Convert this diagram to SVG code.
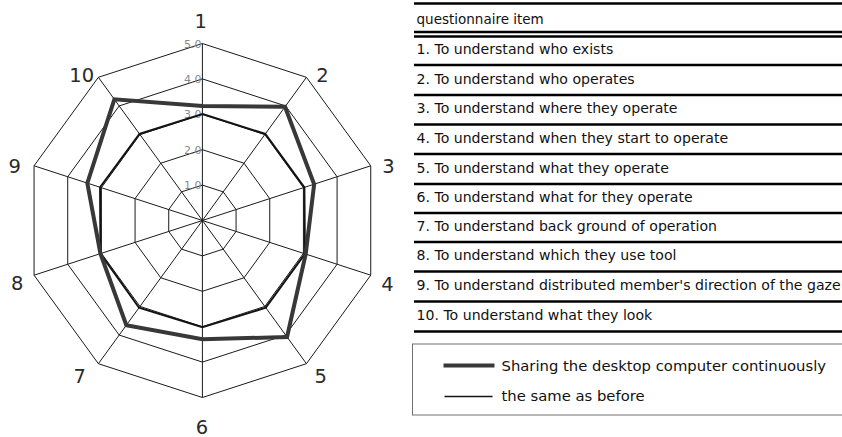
<svg xmlns="http://www.w3.org/2000/svg" width="842" height="437" viewBox="0 0 842 437">
<style>
  .grid { fill: none; stroke: #1a1a1a; stroke-width: 1; }
  .axis { font-family: "DejaVu Sans", sans-serif; font-size: 19.5px; fill: #2a2a2a; text-anchor: middle; }
  .scale { font-family: "DejaVu Sans", sans-serif; font-size: 11px; fill: #8a8a8a; text-anchor: end; }
  .thick { fill: none; stroke: #383838; stroke-width: 4; stroke-linejoin: miter; }
  .thin { fill: none; stroke: #141414; stroke-width: 2; stroke-linejoin: miter; }
  .rule { stroke: #000; stroke-width: 2.5; }
  .row { font-family: "DejaVu Sans", sans-serif; font-size: 14.1px; fill: #111; }
  .leg { font-family: "DejaVu Sans", sans-serif; font-size: 14.8px; fill: #111; }
</style>
<rect width="842" height="437" fill="#fff"/>
<g id="radar-grid">
  <polygon class="grid" points="202.4,43.5 306.44,77.31 370.74,165.81 370.74,275.19 306.44,363.69 202.4,397.5 98.36,363.69 34.06,275.19 34.06,165.81 98.36,77.31"/>
  <polygon class="grid" points="202.4,78.9 285.63,105.95 337.08,176.75 337.08,264.25 285.63,335.05 202.4,362.1 119.17,335.05 67.72,264.25 67.72,176.75 119.17,105.95"/>
  <polygon class="grid" points="202.4,114.3 264.82,134.58 303.41,187.68 303.41,253.32 264.82,306.42 202.4,326.7 139.98,306.42 101.39,253.32 101.39,187.68 139.98,134.58"/>
  <polygon class="grid" points="202.4,149.7 244.02,163.22 269.74,198.62 269.74,242.38 244.02,277.78 202.4,291.3 160.78,277.78 135.06,242.38 135.06,198.62 160.78,163.22"/>
  <polygon class="grid" points="202.4,185.1 223.21,191.86 236.07,209.56 236.07,231.44 223.21,249.14 202.4,255.9 181.59,249.14 168.73,231.44 168.73,209.56 181.59,191.86"/>
  <path class="grid" d="M202.4,220.5L202.4,43.5M202.4,220.5L306.44,77.31M202.4,220.5L370.74,165.81M202.4,220.5L370.74,275.19M202.4,220.5L306.44,363.69M202.4,220.5L202.4,397.5M202.4,220.5L98.36,363.69M202.4,220.5L34.06,275.19M202.4,220.5L34.06,165.81M202.4,220.5L98.36,77.31"/>
</g>
<g id="scale-labels">
  <text class="scale" x="201.5" y="47.5">5.0</text>
  <text class="scale" x="201.5" y="82.9">4.0</text>
  <text class="scale" x="201.5" y="118.3">3.0</text>
  <text class="scale" x="201.5" y="153.7">2.0</text>
  <text class="scale" x="201.5" y="189.1">1.0</text>
</g>
<g id="series">
  <polygon id="series-before" class="thin" points="202.4,114 265.29,133.94 304.36,187.38 304.93,253.81 265.76,307.71 202.4,327.3 139.04,307.71 100.44,253.62 100.06,187.25 139.51,133.94"/>
  <polygon id="series-sharing" class="thick" points="202.4,106 284.99,106.84 314.15,184.19 305.69,254.06 287.04,337 202.4,339.3 126.34,325.18 100.44,253.62 87.32,183.11 114.35,99.31"/>
</g>
<g id="axis-labels">
  <text class="axis" x="200.7" y="28.3">1</text>
  <text class="axis" x="322.5" y="81.7">2</text>
  <text class="axis" x="388.5" y="173">3</text>
  <text class="axis" x="387.5" y="291">4</text>
  <text class="axis" x="320.8" y="382.5">5</text>
  <text class="axis" x="202" y="433.5">6</text>
  <text class="axis" x="79.8" y="382.5">7</text>
  <text class="axis" x="17.2" y="290">8</text>
  <text class="axis" x="14.7" y="173">9</text>
  <text class="axis" x="81.7" y="81.7">10</text>
</g>
<g id="item-table">
  <line class="rule" x1="414" y1="3.5" x2="842" y2="3.5"/>
  <text class="row" x="416.5" y="24.3" style="font-size:13.5px">questionnaire item</text>
  <line class="rule" x1="414" y1="32" x2="842" y2="32"/>
  <line class="rule" x1="414" y1="36.5" x2="842" y2="36.5"/>
  <text class="row" x="416.5" y="53.5">1. To understand who exists</text>
  <line class="rule" x1="414" y1="65" x2="842" y2="65"/>
  <text class="row" x="416.5" y="83.5">2. To understand who operates</text>
  <line class="rule" x1="414" y1="95" x2="842" y2="95"/>
  <text class="row" x="416.5" y="113">3. To understand where they operate</text>
  <line class="rule" x1="414" y1="124.5" x2="842" y2="124.5"/>
  <text class="row" x="416.5" y="142.5">4. To understand when they start to operate</text>
  <line class="rule" x1="414" y1="154" x2="842" y2="154"/>
  <text class="row" x="416.5" y="172.5">5. To understand what they operate</text>
  <line class="rule" x1="414" y1="184" x2="842" y2="184"/>
  <text class="row" x="416.5" y="201.5">6. To understand what for they operate</text>
  <line class="rule" x1="414" y1="213" x2="842" y2="213"/>
  <text class="row" x="416.5" y="230.5">7. To understand back ground of operation</text>
  <line class="rule" x1="414" y1="242" x2="842" y2="242"/>
  <text class="row" x="416.5" y="260">8. To understand which they use tool</text>
  <line class="rule" x1="414" y1="271.5" x2="842" y2="271.5"/>
  <text class="row" x="416.5" y="290">9. To understand distributed member's direction of the gaze</text>
  <line class="rule" x1="414" y1="301.5" x2="842" y2="301.5"/>
  <text class="row" x="416.5" y="320">10. To understand what they look</text>
  <line class="rule" x1="414" y1="331.5" x2="842" y2="331.5"/>
</g>
<g id="legend">
  <rect x="412.5" y="344" width="440" height="71" fill="none" stroke="#707070" stroke-width="1"/>
  <line x1="443.5" y1="365.5" x2="494.5" y2="365.5" stroke="#383838" stroke-width="4"/>
  <text class="leg" x="501.5" y="371">Sharing the desktop computer continuously</text>
  <line x1="444.5" y1="396.5" x2="492.5" y2="396.5" stroke="#141414" stroke-width="1.5"/>
  <text class="leg" x="501.5" y="401">the same as before</text>
</g>
</svg>
